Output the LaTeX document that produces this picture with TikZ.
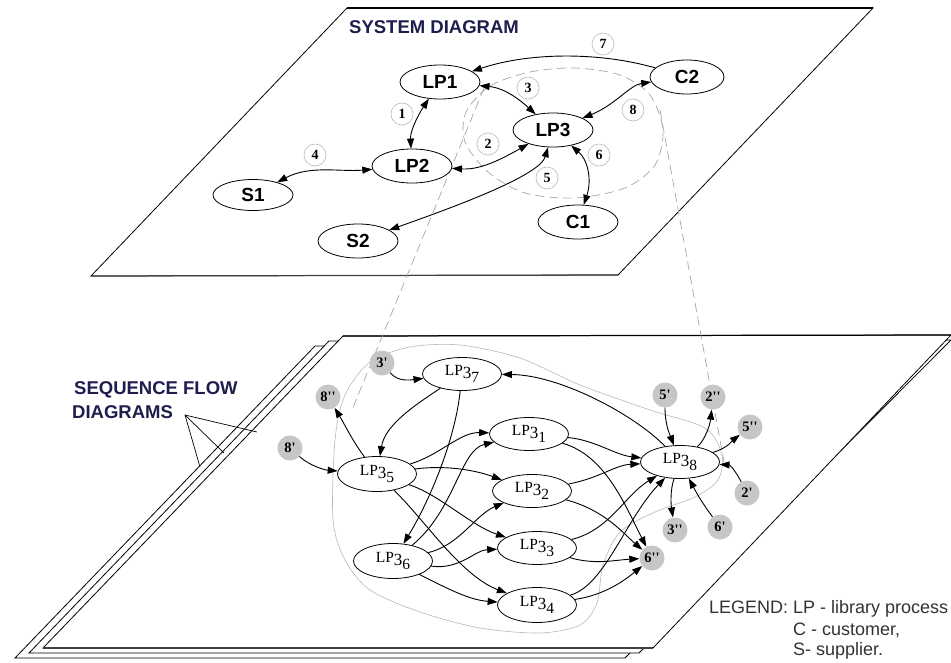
\documentclass[tikz,border=0pt]{standalone}
\usepackage{fontspec}
\setmainfont{Liberation Serif}
\newfontfamily\arial{Liberation Sans}
\usetikzlibrary{arrows.meta,shapes.geometric}
\definecolor{navy}{HTML}{1E1E4E}
\newcommand{\lpx}[1]{LP\raisebox{-2.5pt}{\fontsize{17}{17}\selectfont 3}\raisebox{-6.5pt}{#1}}
\newcommand{\qs}{\textquotesingle}
\tikzset{
 topnode/.style={ellipse, draw, line width=0.8pt, fill=white, minimum width=80pt, minimum height=34pt, inner sep=0pt, font=\arial\bfseries\fontsize{19}{19}\selectfont},
 botnode/.style={ellipse, draw, line width=0.8pt, fill=white, minimum width=79pt, minimum height=33pt, inner sep=0pt, font=\fontsize{15.5}{15.5}\selectfont},
 numc/.style={circle, draw=gray!55, line width=0.6pt, fill=white, minimum size=22pt, inner sep=0pt, font=\bfseries\fontsize{14}{14}\selectfont},
 gdot/.style={circle, fill=gray!45, minimum size=25pt, inner sep=0pt, font=\bfseries\fontsize{14.5}{14.5}\selectfont},
 conn/.style={line width=0.9pt, -{Triangle[length=10pt,width=7pt]}},
 dconn/.style={line width=0.9pt, {Triangle[length=10pt,width=7pt]}-{Triangle[length=10pt,width=7pt]}},
 plane/.style={line width=0.8pt, fill=white},
 proj/.style={gray!70, line width=0.7pt, dash pattern=on 9pt off 5pt},
 hull/.style={gray!55, line width=0.6pt},
 title/.style={font=\arial\bfseries\fontsize{18.5}{18.5}\selectfont, text=navy, inner sep=0pt, anchor=west},
 legend/.style={font=\arial\fontsize{18}{18}\selectfont, text=black!80, inner sep=0pt, anchor=west},
}
\begin{document}
\begin{tikzpicture}[x=1pt,y=-1pt]
\useasboundingbox (0,0) rectangle (951,662);
\fill[white] (0,0) rectangle (951,662);

% ---------- planes ----------
\draw[plane] (347,8) -- (873,8) -- (618,275) -- (91,276) -- cycle;
\draw[line width=1.2pt] (347,8) -- (873,8);
\draw[line width=1.2pt, black!75] (91,276) -- (618,275);

\draw[plane] (315,346) -- (937,345) -- (625,658) -- (15,658) -- cycle;
\draw[plane] (329,341) -- (951,340) -- (639,653) -- (29,653) -- cycle;
\draw[plane] (343,336) -- (951,335) -- (653,648) -- (43,648) -- cycle;
\draw[line width=1.2pt] (343,336) -- (951,335);
\draw[line width=1.2pt, black!75] (43,648) -- (653,648);

% ---------- titles ----------
\node[title] (systitle) at (349,27) {SYSTEM DIAGRAM};
\node[title] (seq1) at (74,390) {SEQUENCE FLOW};
\node[title] (seq2) at (72,412) {DIAGRAMS};
\coordinate (apex) at (185,415);
\coordinate (pa) at (200,467);
\coordinate (pb) at (224,453);
\coordinate (pc) at (257,432);
\draw[line width=0.7pt] (pa) -- (apex) -- (pc);
\draw[line width=0.7pt] (apex) -- (pb);

% ---------- dashed projection ----------
\draw[proj] plot[smooth cycle] coordinates {(466,112) (490,86) (530,72) (575,68) (620,75) (650,95) (663,130) (655,165) (625,188) (575,198) (525,193) (488,172) (465,142)};
\coordinate (pl1) at (484,88);
\coordinate (pl2) at (352,410);
\coordinate (pr1) at (660,110);
\coordinate (pr2) at (724,462);
\draw[proj] (pl1) -- (pl2);
\draw[proj] (pr1) -- (pr2);

% ---------- hull ----------
\draw[hull] plot[smooth cycle] coordinates {(345,395) (370,362) (410,347) (460,345) (520,358) (580,385) (650,410) (705,428) (722,455) (718,480) (695,497) (655,512) (620,532) (603,565) (597,603) (580,625) (540,633) (480,628) (420,612) (370,590) (345,560) (333,520) (335,440)};

% ---------- top nodes ----------
\node[topnode] (lp1) at (440,82) {LP1};
\node[topnode] (lp2) at (412,166) {LP2};
\node[topnode] (lp3) at (553,130) {LP3};
\node[topnode, minimum width=74pt] (c2) at (687,77) {C2};
\node[topnode, minimum height=31pt] (s1) at (253,195) {S1};
\node[topnode] (s2) at (358,241) {S2};
\node[topnode] (c1) at (578,222) {C1};

\node[numc] (n7) at (603,44) {7};
\node[numc] (n3) at (528,88) {3};
\node[numc] (n1) at (402,114) {1};
\node[numc] (n8) at (633,110) {8};
\node[numc] (n2) at (488,144) {2};
\node[numc] (n6) at (599,155) {6};
\node[numc] (n4) at (315,155) {4};
\node[numc] (n5) at (547,178) {5};

% ---------- top edges ----------
\draw[conn] (c2) .. controls (600,52) and (530,52) .. (lp1);
\draw[dconn] (lp1) .. controls (505,88) and (520,100) .. (lp3);
\draw[dconn] (c2) .. controls (630,85) and (615,105) .. (lp3);
\draw[dconn] (lp1) .. controls (420,112) and (410,130) .. (lp2);
\draw[dconn] (lp2) .. controls (480,170) and (500,160) .. (lp3);
\draw[dconn] (s1) .. controls (310,165) and (340,172) .. (lp2);
\draw[dconn] (s2) .. controls (460,205) and (540,175) .. (lp3);
\draw[dconn] (lp3) .. controls (588,160) and (592,180) .. (c1);

% ---------- bottom nodes ----------
\node[botnode] (b7) at (462,374) {\lpx{7}};
\node[botnode] (b1) at (529,434) {\lpx{1}};
\node[botnode, minimum height=35pt] (b5) at (377,474) {\lpx{5}};
\node[botnode] (b2) at (532,491) {\lpx{2}};
\node[botnode] (b8) at (680,462) {\lpx{8}};
\node[botnode] (b3) at (537,548) {\lpx{3}};
\node[botnode, minimum height=35pt] (b6) at (393,561) {\lpx{6}};
\node[botnode, minimum height=35pt] (b4) at (537,605) {\lpx{4}};

\node[gdot] (p3a) at (382,363) {3\qs};
\node[gdot] (p8b) at (328,397) {8\qs\qs};
\node[gdot] (p8a) at (290,448) {8\qs};
\node[gdot] (p5a) at (665,395) {5\qs};
\node[gdot] (p2b) at (713,397) {2\qs\qs};
\node[gdot] (p5b) at (750,427) {5\qs\qs};
\node[gdot] (p2a) at (747,493) {2\qs};
\node[gdot] (p6a) at (720,527) {6\qs};
\node[gdot] (p3b) at (675,530) {3\qs\qs};
\node[gdot] (p6b) at (652,558) {6\qs\qs};

% ---------- bottom edges ----------
\draw[conn] (p3a) .. controls (398,382) and (410,380) .. (b7);
\draw[conn] (p8a) .. controls (310,466) and (325,470) .. (b5);
\draw[conn] (b5) .. controls (352,440) and (345,425) .. (p8b);
\draw[conn] (b7) .. controls (415,405) and (385,425) .. (b5);
\draw[conn] (b7) .. controls (455,440) and (430,500) .. (b6);
\draw[conn] (b5) .. controls (440,455) and (460,432) .. (b1);
\draw[conn] (b5) .. controls (445,465) and (475,470) .. (b2);
\draw[conn] (b5) .. controls (440,495) and (470,525) .. (b3);
\draw[conn] (b5) .. controls (425,520) and (460,575) .. (b4);
\draw[conn] (b6) .. controls (455,510) and (460,450) .. (b1);
\draw[conn] (b6) .. controls (460,545) and (475,515) .. (b2);
\draw[conn] (b6) .. controls (460,570) and (475,550) .. (b3);
\draw[conn] (b6) .. controls (450,590) and (470,600) .. (b4);
\draw[conn] (b1) .. controls (595,440) and (615,455) .. (b8);
\draw[conn] (b1) .. controls (605,455) and (625,505) .. (p6b);
\draw[conn] (b2) .. controls (600,478) and (615,465) .. (b8);
\draw[conn] (b2) .. controls (605,510) and (625,535) .. (p6b);
\draw[conn] (b3) .. controls (610,530) and (625,495) .. (b8);
\draw[conn] (b3) .. controls (595,565) and (615,560) .. (p6b);
\draw[conn] (b4) .. controls (605,585) and (625,520) .. (b8);
\draw[conn] (b4) .. controls (605,595) and (625,580) .. (p6b);
\draw[conn] (b8) .. controls (635,415) and (560,375) .. (b7);
\draw[conn] (p5a) .. controls (665,425) and (670,435) .. (b8);
\draw[conn] (b8) .. controls (705,440) and (710,425) .. (p2b);
\draw[conn] (b8) .. controls (728,448) and (733,440) .. (p5b);
\draw[conn] (p2a) .. controls (735,470) and (730,465) .. (b8);
\draw[conn] (p6a) .. controls (700,500) and (695,490) .. (b8);
\draw[conn] (b8) .. controls (670,490) and (671,505) .. (p3b);

% ---------- legend ----------
\node[legend] (lg1) at (709,609) {LEGEND: LP - library process};
\node[legend] (lg2) at (793,630) {C - customer,};
\node[legend] (lg3) at (793,651) {S- supplier.};
\end{tikzpicture}
\end{document}
